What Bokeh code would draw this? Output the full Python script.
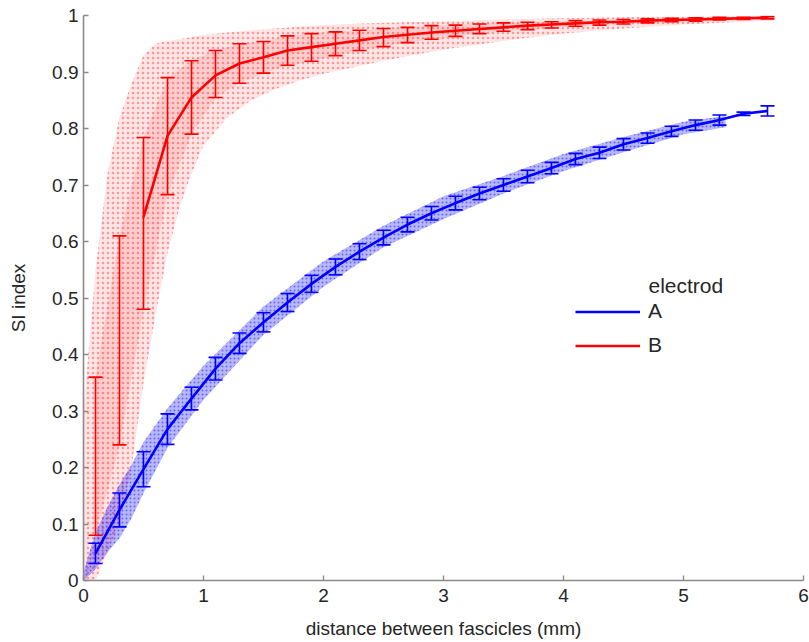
from bokeh.plotting import figure
from bokeh.models import (ColumnDataSource, Whisker, TeeHead, Legend, LegendItem,
                          Label, FixedTicker, Range1d)
from bokeh.embed import file_html
from bokeh.resources import INLINE

# ---------------- data ----------------
x_bins = [0.1, 0.3, 0.5, 0.7, 0.9, 1.1, 1.3, 1.5, 1.7, 1.9, 2.1, 2.3, 2.5, 2.7, 2.9,
          3.1, 3.3, 3.5, 3.7, 3.9, 4.1, 4.3, 4.5, 4.7, 4.9, 5.1, 5.3, 5.5, 5.7]

blue_mean = [0.048, 0.125, 0.197, 0.268, 0.322, 0.375, 0.42, 0.457, 0.492, 0.525,
             0.555, 0.582, 0.607, 0.63, 0.65, 0.668, 0.685, 0.70, 0.715, 0.73,
             0.746, 0.757, 0.772, 0.783, 0.795, 0.806, 0.815, 0.826, 0.831]
blue_err = [0.018, 0.03, 0.031, 0.027, 0.02, 0.02, 0.018, 0.017, 0.016, 0.015,
            0.014, 0.014, 0.013, 0.013, 0.012, 0.012, 0.011, 0.011, 0.011, 0.01,
            0.01, 0.01, 0.01, 0.009, 0.009, 0.009, 0.009, 0.003, 0.009]

red_mean = [0.22, 0.425, 0.643, 0.787, 0.855, 0.894, 0.915, 0.926, 0.938, 0.944,
            0.95, 0.956, 0.962, 0.966, 0.97, 0.973, 0.976, 0.979, 0.982, 0.984,
            0.986, 0.988, 0.989, 0.991, 0.992, 0.993, 0.994, 0.995, 0.996]
red_lo = [0.08, 0.24, 0.48, 0.683, 0.79, 0.855, 0.88, 0.898, 0.912, 0.919,
          0.929, 0.938, 0.945, 0.952, 0.958, 0.963, 0.968, 0.972, 0.975, 0.978,
          0.981, 0.983, 0.985, 0.987, 0.989, 0.99, 0.992, 0.993, 0.994]
red_hi = [0.36, 0.61, 0.784, 0.89, 0.92, 0.938, 0.95, 0.954, 0.964, 0.968,
          0.971, 0.974, 0.977, 0.979, 0.982, 0.983, 0.985, 0.987, 0.988, 0.989,
          0.991, 0.992, 0.993, 0.994, 0.995, 0.996, 0.997, 0.997, 0.998]

# extent of the individual-sample clouds
blue_cloud_x = [0.0, 0.1, 0.2, 0.3, 0.4, 0.5, 0.7, 1.0, 1.5, 2.0, 2.5, 3.0, 3.5,
                4.0, 4.5, 5.0, 5.35]
blue_cloud_lo = [0.0, 0.02, 0.05, 0.075, 0.11, 0.155, 0.235, 0.32, 0.435, 0.52,
                 0.59, 0.64, 0.685, 0.725, 0.758, 0.79, 0.802]
blue_cloud_hi = [0.015, 0.085, 0.13, 0.17, 0.205, 0.245, 0.305, 0.38, 0.485,
                 0.565, 0.628, 0.68, 0.716, 0.755, 0.785, 0.812, 0.822]

red_cloud_x = [0.0, 0.1, 0.2, 0.3, 0.4, 0.5, 0.6, 0.7, 0.8, 0.9, 1.0, 1.2, 1.4,
               1.6, 1.8, 2.0, 2.5, 3.0, 3.5, 4.0, 4.5, 5.0, 5.5, 5.75]
red_cloud_hi = [0.3, 0.55, 0.72, 0.82, 0.88, 0.93, 0.95, 0.955, 0.958, 0.962,
                0.966, 0.97, 0.974, 0.977, 0.98, 0.983, 0.987, 0.99, 0.993,
                0.995, 0.997, 0.998, 0.999, 1.0]
red_cloud_lo = [0.0, 0.0, 0.05, 0.1, 0.2, 0.35, 0.47, 0.58, 0.66, 0.72, 0.77,
                0.82, 0.85, 0.87, 0.885, 0.897, 0.92, 0.94, 0.955, 0.968, 0.977,
                0.984, 0.989, 0.991]

x_ticks = [0, 1, 2, 3, 4, 5, 6]
y_ticks = [0, 0.1, 0.2, 0.3, 0.4, 0.5, 0.6, 0.7, 0.8, 0.9, 1]
y_tick_labels = ["0", "0.1", "0.2", "0.3", "0.4", "0.5", "0.6", "0.7", "0.8", "0.9", "1"]
series_names = ["A", "B"]
legend_title = "electrod"
x_title = "distance between fascicles (mm)"
y_title = "SI index"

# ---------------- styles ----------------
BLUE = "#0000ff"
RED = "#ff0000"
FONT = "Liberation Sans"
TXT = "#262626"
AXC = "#8a8a8a"

p = figure(width=809, height=642, output_backend="svg", toolbar_location=None,
           x_range=Range1d(0, 6), y_range=Range1d(0, 1),
           min_border_left=83, min_border_right=6, min_border_top=15,
           min_border_bottom=62)
p.outline_line_color = None
p.grid.visible = False
p.background_fill_color = "white"
p.border_fill_color = "white"

# clouds
p.varea(x=red_cloud_x, y1=red_cloud_lo, y2=red_cloud_hi, fill_color=RED,
        fill_alpha=0.10, hatch_pattern="dot", hatch_color=RED, hatch_alpha=0.35,
        hatch_scale=5, hatch_weight=1)
p.varea(x=x_bins, y1=red_lo, y2=red_hi, fill_color=RED, fill_alpha=0.10)
p.varea(x=blue_cloud_x, y1=blue_cloud_lo, y2=blue_cloud_hi, fill_color=BLUE,
        fill_alpha=0.28, hatch_pattern="dot", hatch_color=BLUE, hatch_alpha=0.45,
        hatch_scale=4, hatch_weight=1)

# error bars
blue_src = ColumnDataSource(dict(
    x=x_bins, y=blue_mean,
    lo=[m - e for m, e in zip(blue_mean, blue_err)],
    hi=[m + e for m, e in zip(blue_mean, blue_err)]))
red_src = ColumnDataSource(dict(x=x_bins, y=red_mean, lo=red_lo, hi=red_hi))

for src, col in ((blue_src, BLUE), (red_src, RED)):
    w = Whisker(source=src, base="x", lower="lo", upper="hi",
                line_color=col, line_width=1.6, level="glyph",
                lower_head=TeeHead(size=14, line_color=col, line_width=1.6),
                upper_head=TeeHead(size=14, line_color=col, line_width=1.6))
    p.add_layout(w)

# mean lines
r_blue = p.line(x=x_bins, y=blue_mean, line_color=BLUE, line_width=2.6)
r_red = p.line(x=x_bins[2:], y=red_mean[2:], line_color=RED, line_width=2.6)

# axes
for ax in (p.xaxis[0], p.yaxis[0]):
    ax.axis_line_color = AXC
    ax.axis_line_width = 1.6
    ax.major_tick_line_color = AXC
    ax.major_tick_line_width = 1.4
    ax.major_tick_in = 5
    ax.major_tick_out = 0
    ax.minor_tick_line_color = None
    ax.major_label_text_font = FONT
    ax.major_label_text_font_size = "19px"
    ax.major_label_text_color = TXT
    ax.axis_label_text_font = FONT
    ax.axis_label_text_font_size = "19px"
    ax.axis_label_text_font_style = "normal"
    ax.axis_label_text_color = TXT

p.xaxis.ticker = FixedTicker(ticks=x_ticks)
p.yaxis.ticker = FixedTicker(ticks=y_ticks)
p.yaxis.major_label_overrides = {t: s for t, s in zip(y_ticks, y_tick_labels)}
p.xaxis.axis_label = x_title
p.yaxis.axis_label = y_title
p.xaxis.major_label_standoff = 8
p.yaxis.major_label_standoff = 5
p.xaxis.axis_label_standoff = 13
p.yaxis.axis_label_standoff = 20

# legend
legend = Legend(items=[LegendItem(label=series_names[0], renderers=[r_blue]),
                       LegendItem(label=series_names[1], renderers=[r_red])],
                location=(492, 223), orientation="vertical",
                glyph_width=65, glyph_height=21, label_height=21,
                label_standoff=8, spacing=10, padding=0, margin=0,
                background_fill_alpha=0, border_line_color=None,
                label_text_font=FONT, label_text_font_size="21px",
                label_text_color=TXT)
p.add_layout(legend)
p.add_layout(Label(x=565, y=295, x_units="screen", y_units="screen",
                   text=legend_title, text_font=FONT, text_font_size="21px",
                   text_color=TXT, text_baseline="middle"))

open("out.html", "w").write(file_html(p, INLINE))
